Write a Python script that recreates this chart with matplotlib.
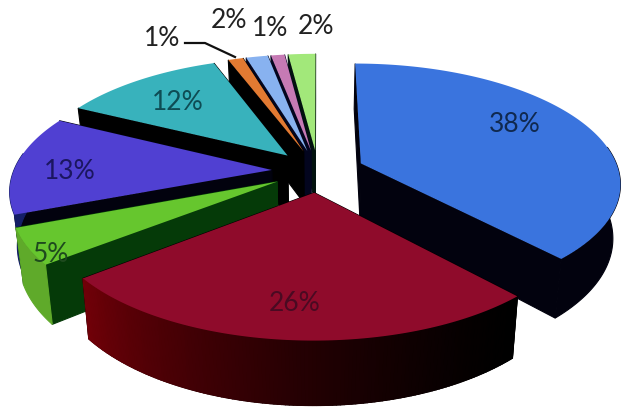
import numpy as np
import matplotlib
matplotlib.use("Agg")
import matplotlib.pyplot as plt
from matplotlib.colors import to_rgb

# === data, clockwise from 12 o'clock ===
labels = ["38%", "26%", "5%", "13%", "12%", "1%", "2%", "1%", "2%"]
values = [38.2, 26.2, 4.8, 13.3, 11.9, 1.1, 1.6, 1.0, 2.0]

top_colors = ["#3A74DE", "#8F0B2B", "#66C62E", "#5040D2", "#38B2BC", "#E27A32", "#88B2F0", "#C67AB4", "#A2E87A"]
wall_start = ["#02020E", "#000000", "#5FAA2A", "#141E66", "#000000", "#000000", "#000000", "#000000", "#000000"]
wall_end = ["#02020E", "#700008", "#5FAA2A", "#141E66", "#000000", "#000000", "#000000", "#000000", "#000000"]
cut_colors = ["#02020E", "#000000", "#053A08", "#02020E", "#000000", "#000000", "#03051E", "#03051E", "#02120E"]
text_colors = ["#10294F", "#4A0A22", "#1E4A1E", "#1B1660", "#0E4C54", "#222222", "#222222", "#222222", "#222222"]
label_pos = [(515, 125), (295, 304), (51, 255), (70, 172), (178, 103), (162, 38), (229, 20), (270, 29), (316, 26)]

# far slices first, red last
draw_order = [8, 7, 6, 5, 4, 3, 2, 0, 1]

# camera
X0, Y0 = 318, 172
A, B, K = 258, 117.5, 0.155
DEPTH = 53
SHRINK = 0.025
EXPLODE = 0.18


def project(x, y, z):
    s = 1 / (1 + K * y)
    return X0 + A * x * s * (1 - SHRINK * z), Y0 - B * y * s + DEPTH * z * s


fig = plt.figure(figsize=(6.33, 4.14), dpi=100)
ax = fig.add_axes([0, 0, 1, 1])
ax.set_xlim(0, 633)
ax.set_ylim(414, 0)
ax.axis("off")

edges = np.cumsum([0] + values) / sum(values) * 2 * np.pi

for n, i in enumerate(draw_order):
    t = np.linspace(edges[i], edges[i + 1], max(4, int(values[i] * 5)))
    mid = (edges[i] + edges[i + 1]) / 2
    ox, oy = EXPLODE * np.sin(mid), EXPLODE * np.cos(mid)
    rx, ry = ox + np.sin(t), oy + np.cos(t)
    z = n * 3 + 1

    # cut faces
    for k in (0, -1):
        px, py = project(np.array([ox, rx[k], rx[k], ox]), np.array([oy, ry[k], ry[k], oy]), np.array([0, 0, 1, 1]))
        ax.fill(px, py, color=cut_colors[i], lw=0.8, zorder=z)

    # outer wall, only the part that faces the viewer
    front = np.cos(t) < 0.15
    c0, c1 = np.array(to_rgb(wall_start[i])), np.array(to_rgb(wall_end[i]))
    if front.sum() >= 2:
        wx, wy = rx[front], ry[front]
        px, py = project(np.r_[wx, wx[::-1]], np.r_[wy, wy[::-1]], np.r_[np.zeros(len(wx)), np.ones(len(wx))])
        ax.fill(px, py, color=c0, lw=0.8, zorder=z)
        if wall_start[i] != wall_end[i]:
            for j in range(len(wx) - 1):
                c = c0 + (c1 - c0) * (j / (len(wx) - 2)) ** 1.5
                qx = np.array([wx[j], wx[j + 1], wx[j + 1], wx[j]])
                qy = np.array([wy[j], wy[j + 1], wy[j + 1], wy[j]])
                px, py = project(qx, qy, np.array([0, 0, 1, 1]))
                ax.fill(px, py, color=c, lw=1.0, zorder=z)

    # top face
    px, py = project(np.r_[ox, rx], np.r_[oy, ry], np.zeros(len(t) + 1))
    ax.fill(px, py, color=top_colors[i], lw=0, zorder=z + 1)

for lab, pos, col in zip(labels, label_pos, text_colors):
    ax.text(pos[0], pos[1], lab, color=col, fontsize=19, family="Lato", ha="center", va="center", zorder=100)

# leader for the 1% label
ax.plot([185, 205, 235], [44, 44, 58], color="#111111", lw=1.6, zorder=100)

fig.savefig("out.png", dpi=100)
